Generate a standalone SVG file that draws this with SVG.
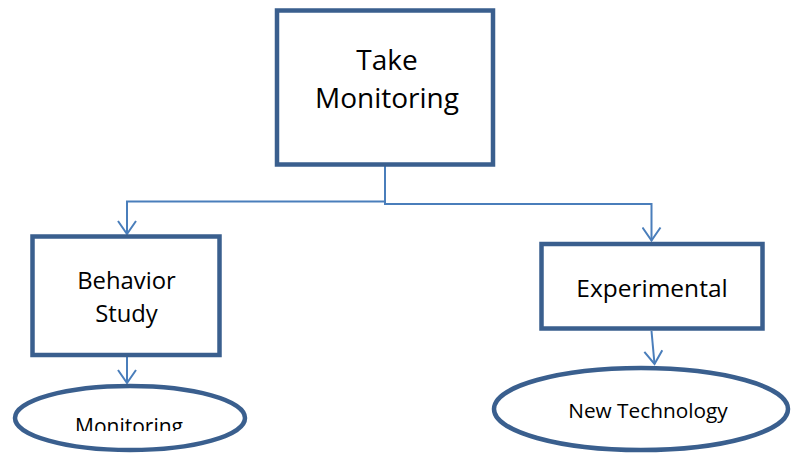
<svg xmlns="http://www.w3.org/2000/svg" width="793" height="454" viewBox="0 0 793 454">
<style>
.box{fill:#fff;stroke:#3A5F8E;stroke-width:4.5}
.conn{fill:none;stroke:#4A7EBB;stroke-width:2}
.t{font-family:"Open Sans","Liberation Sans",sans-serif;fill:#000;text-anchor:middle}
</style>
<defs>
<marker id="arr" viewBox="0 0 20 20" refX="16" refY="10" markerWidth="20" markerHeight="20" markerUnits="userSpaceOnUse" orient="auto">
<path d="M3,1 L16,10 L3,19" fill="none" stroke="#4A7EBB" stroke-width="2"/>
</marker>
<clipPath id="clipMon"><rect x="0" y="380" width="260" height="51"/></clipPath>
</defs>
<rect width="793" height="454" fill="#fff"/>
<g id="connectors">
<path class="conn" d="M385,166 V201.5 H127 V234" marker-end="url(#arr)"/>
<path class="conn" d="M385,166 V204 H651.5 V240.5" marker-end="url(#arr)"/>
<path class="conn" d="M127,357 V383" marker-end="url(#arr)"/>
<path class="conn" d="M651.5,331 L654.5,364" marker-end="url(#arr)"/>
</g>
<g id="take-monitoring">
<rect class="box" x="277" y="10.5" width="216" height="154"/>
<text class="t" x="387" y="70" font-size="28">Take</text>
<text class="t" x="387" y="108" font-size="28">Monitoring</text>
</g>
<g id="behavior-study">
<rect class="box" x="32.5" y="236.5" width="187" height="118.5"/>
<text class="t" x="126.5" y="289" font-size="23.8">Behavior</text>
<text class="t" x="126.5" y="322" font-size="23.8">Study</text>
</g>
<g id="experimental">
<rect class="box" x="541.5" y="244" width="221" height="84.5"/>
<text class="t" x="652" y="297" font-size="24.5">Experimental</text>
</g>
<g id="monitoring">
<ellipse class="box" cx="130" cy="418" rx="115" ry="32"/>
<text class="t" x="129" y="434" font-size="21" clip-path="url(#clipMon)">Monitoring</text>
</g>
<g id="new-technology">
<ellipse class="box" cx="641" cy="409" rx="147" ry="41"/>
<text class="t" x="648" y="418" font-size="20.8">New Technology</text>
</g>
</svg>
